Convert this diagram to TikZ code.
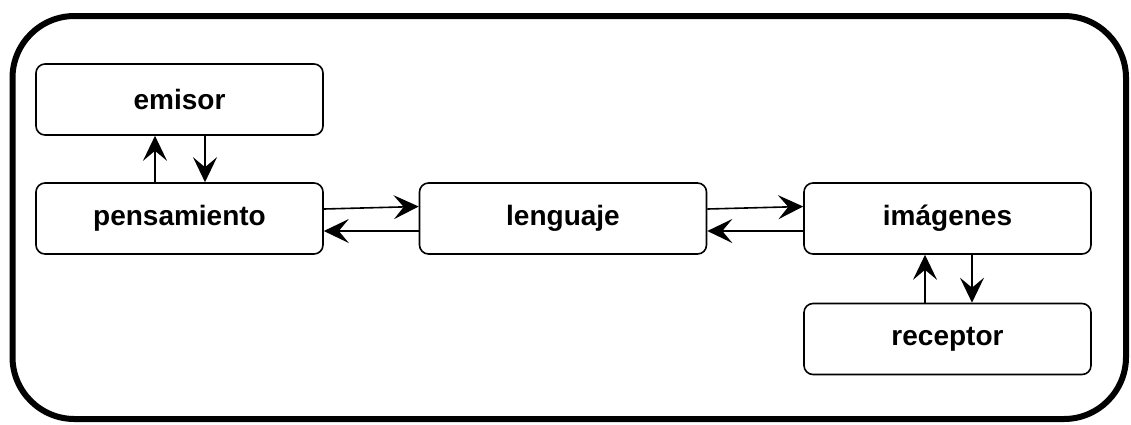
\documentclass[tikz,border=0pt]{standalone}
\usepackage{fontspec}
\setmainfont{Liberation Sans}
\usetikzlibrary{arrows.meta}
\begin{document}
\begin{tikzpicture}[x=1pt,y=-1pt,
  box/.style={draw,line width=1.6pt,rounded corners=9pt,minimum width=287pt,minimum height=71pt,inner sep=0pt,font=\fontsize{28}{32}\selectfont\bfseries},
  arr/.style={line width=1.6pt,-{Stealth[length=25pt,width=24pt,inset=10pt]}}]
\useasboundingbox (0,0) rectangle (1131,424);
\draw[line width=6pt,rounded corners=62pt] (12.5,16) rectangle (1126,419);
\node[box] (emisor) at (179.5,99.5) {emisor};
\node[box] (pens) at (179.5,218.5) {pensamiento};
\node[box] (leng) at (563,218.5) {lenguaje};
\node[box] (imag) at (947.5,218.5) {imágenes};
\node[box] (recep) at (947.5,339) {receptor};
\draw[arr] ([xshift=-24.5pt]pens.north) -- ([xshift=-24.5pt]emisor.south);
\draw[arr] ([xshift=25.5pt]emisor.south) -- ([xshift=25.5pt]pens.north);
\draw[arr] ([yshift=9.5pt]pens.east) -- ([yshift=12pt]leng.west);
\draw[arr] ([yshift=-12.5pt]leng.west) -- ([yshift=-12.5pt]pens.east);
\draw[arr] ([yshift=9.5pt]leng.east) -- ([yshift=12pt]imag.west);
\draw[arr] ([yshift=-12.5pt]imag.west) -- ([yshift=-12.5pt]leng.east);
\draw[arr] ([xshift=-22.5pt]recep.north) -- ([xshift=-22.5pt]imag.south);
\draw[arr] ([xshift=24.5pt]imag.south) -- ([xshift=24.5pt]recep.north);
\end{tikzpicture}
\end{document}
